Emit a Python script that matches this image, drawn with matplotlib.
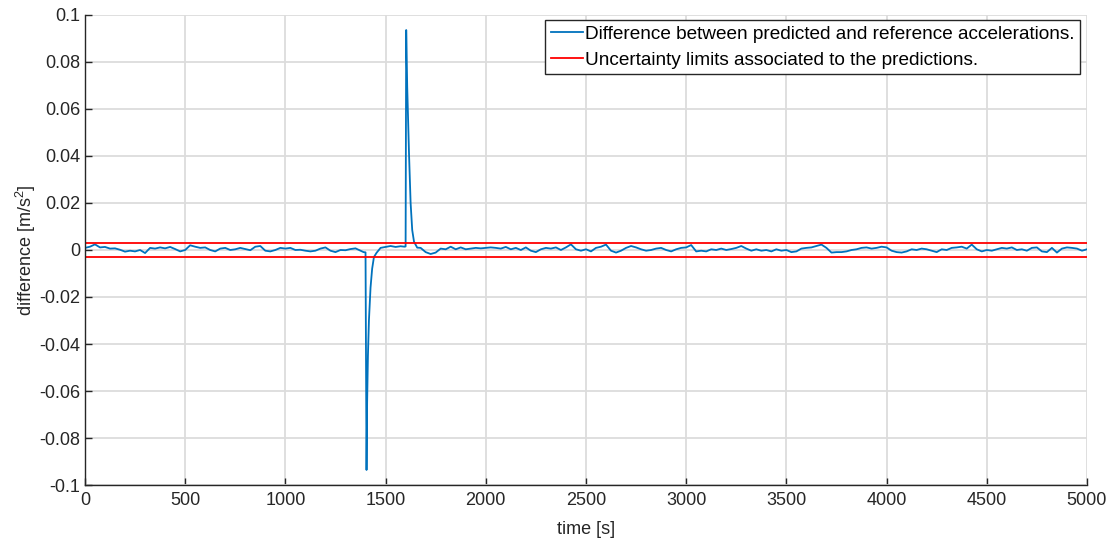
import numpy as np
import matplotlib
matplotlib.use("Agg")
import matplotlib.pyplot as plt
from matplotlib.ticker import FuncFormatter

plt.rcParams['font.family'] = ['Liberation Sans', 'DejaVu Sans']
plt.rcParams['axes.unicode_minus'] = False
plt.rcParams['mathtext.fontset'] = 'custom'
plt.rcParams['mathtext.rm'] = 'Liberation Sans'
plt.rcParams['mathtext.default'] = 'regular'

# time samples [s] and difference [m/s^2]
time = [
    0, 25, 50, 75, 100, 125, 150, 175, 200, 225, 250, 275, 300, 325, 350, 375,
    400, 425, 450, 475, 500, 525, 550, 575, 600, 625, 650, 675, 700, 725, 750,
    775, 800, 825, 850, 875, 900, 925, 950, 975, 1000, 1025, 1050, 1075, 1100,
    1125, 1150, 1175, 1200, 1225, 1250, 1275, 1300, 1325, 1350, 1375, 1390,
    1400, 1405, 1408, 1412, 1417, 1425, 1433, 1442, 1455,
    1475, 1500, 1525, 1550, 1575, 1595,
    1600, 1603, 1608, 1617, 1625, 1633, 1642, 1658,
    1675, 1700, 1725, 1750, 1775, 1800, 1825, 1850, 1875, 1900, 1925, 1950,
    1975, 2000, 2025, 2050, 2075, 2100, 2125, 2150, 2175, 2200, 2225, 2250,
    2275, 2300, 2325, 2350, 2375, 2400, 2425, 2450, 2475, 2500,
    2525, 2550, 2575, 2600, 2625, 2650, 2675, 2700, 2725, 2750, 2775, 2800,
    2825, 2850, 2875, 2900, 2925, 2950, 2975, 3000, 3025, 3050, 3075, 3100,
    3125, 3150, 3175, 3200, 3225, 3250, 3275, 3300, 3325, 3350, 3375, 3400,
    3425, 3450, 3475, 3500, 3525, 3550, 3575, 3600, 3625, 3650, 3675, 3700,
    3725, 3750, 3775, 3800, 3825, 3850, 3875, 3900, 3925, 3950, 3975, 4000,
    4025, 4050, 4075, 4100, 4125, 4150, 4175, 4200, 4225, 4250, 4275, 4300,
    4325, 4350, 4375, 4400, 4425, 4450, 4475, 4500, 4525, 4550, 4575, 4600,
    4625, 4650, 4675, 4700, 4725, 4750, 4775, 4800, 4825, 4850, 4875, 4900,
    4925, 4950, 4975, 5000,
]
diff = [
    0.0009, 0.0014, 0.0024, 0.0011, 0.0013, 0.0006, 0.0007, 0.0001, -0.0007,
    -0.0003, -0.0006, 0.0, -0.0013, 0.0009, 0.0006, 0.0011, 0.0007, 0.0013,
    0.0004, -0.0006, 0.0, 0.0020, 0.0014, 0.0009, 0.0011, 0.0, -0.0006, 0.0006,
    0.0009, 0.0, 0.0003, 0.0009, 0.0004, -0.0001, 0.0014, 0.0017, -0.0003,
    -0.0006, 0.0, 0.0009, 0.0006, 0.0009, 0.0, 0.0001, -0.0003, -0.0006,
    -0.0003, 0.0006, 0.0011, -0.0003, -0.0009, 0.0, -0.0001, 0.0004, 0.0007,
    -0.0003, -0.0009,
    -0.0010, -0.0936, -0.065, -0.045, -0.030, -0.016, -0.008, -0.003, -0.0012,
    0.0009, 0.0013, 0.0017, 0.0013, 0.0016, 0.0014,
    0.0015, 0.0936, 0.0695, 0.041, 0.020, 0.0085, 0.0035, 0.0010,
    0.0009, -0.0009, -0.0017, -0.0011, 0.0006, 0.0003, 0.0014, 0.0003, 0.0011,
    0.0003, 0.0006, 0.0009, 0.0007, 0.0009, 0.0011, 0.0009, 0.0006, 0.0013,
    0.0003, 0.0009, 0.0, 0.0011, -0.0003, -0.0009, 0.0003, 0.0009, 0.0006,
    0.0011, 0.0, 0.0011, 0.0024, 0.0003, -0.0003, 0.0003,
    -0.0006, 0.0009, 0.0014, 0.0023, -0.0003, -0.0011, -0.0003, 0.0009, 0.0017,
    0.0011, 0.0003, -0.0003, 0.0, 0.0006, 0.0009, 0.0, -0.0006, 0.0003, 0.0009,
    0.0011, 0.0021, -0.0006, -0.0003, -0.0006, 0.0003, 0.0, 0.0006, 0.0, 0.0004,
    0.0009, 0.0017, 0.0006, -0.0003, 0.0003, -0.0003, 0.0, -0.0006, 0.0003,
    -0.0003, 0.0, -0.0009, -0.0006, 0.0006, 0.0009, 0.0011, 0.0017, 0.0023,
    0.0009, -0.0011, -0.0009,
    -0.0009, -0.0006, 0.0, 0.0003, 0.0009, 0.0011, 0.0006, 0.0009, 0.0014,
    0.0011, -0.0003, -0.0009, -0.0011, -0.0006, 0.0003, 0.0, 0.0006, 0.0003,
    -0.0003, -0.0009, 0.0003, 0.0, 0.0009, 0.0011, 0.0014, 0.0006, 0.0023,
    0.0003, -0.0006, 0.0, -0.0003, 0.0003, 0.0009, 0.0006, 0.0011, 0.0,
    0.0003, -0.0003, 0.0009, 0.0011, -0.0006, -0.0009, 0.0009, -0.0011, 0.0006,
    0.0011, 0.0009, 0.0006, -0.0003, 0.0003,
]
limit = 0.003
t_span = [0, 5000]

fig = plt.figure(figsize=(11.12, 5.41), dpi=100)
ax = fig.add_axes([0.0764, 0.1035, 0.9011, 0.8688])

ax.plot(time, diff, color='#0072BD', lw=1.3,
        label='Difference between predicted and reference accelerations.')
ax.plot(t_span, [limit, limit], color='#FF0000', lw=1.3,
        label='Uncertainty limits associated to the predictions.')
ax.plot(t_span, [-limit, -limit], color='#FF0000', lw=1.3)

ax.set_xlim(0, 5000)
ax.set_ylim(-0.1, 0.1)
ax.set_xticks(np.arange(0, 5001, 500))
ax.set_yticks(np.arange(-0.1, 0.1001, 0.02))
ax.yaxis.set_major_formatter(FuncFormatter(lambda v, p: '%g' % round(v, 4)))

ax.grid(True, color='#dcdcdc', lw=1.3)
ax.set_axisbelow(True)
for s in ['top', 'right']:
    ax.spines[s].set_visible(False)
for s in ['left', 'bottom']:
    ax.spines[s].set_color('#262626')
    ax.spines[s].set_linewidth(1.0)
ax.tick_params(direction='in', length=5, width=1.0, colors='#262626',
               labelsize=13, labelcolor='#262626')
ax.tick_params(axis='x', pad=5)

ax.set_xlabel('time [s]', fontsize=13, color='#262626', labelpad=9)
ax.set_ylabel('difference [m/s$^2$]', fontsize=13, color='#262626',
              labelpad=1)

leg = ax.legend(loc='upper right', bbox_to_anchor=(0.9935, 0.99),
                fontsize=13.7, frameon=True, fancybox=False,
                edgecolor='#262626', framealpha=1, borderpad=0.3,
                handlelength=1.7, handletextpad=0.1, labelspacing=0.45,
                borderaxespad=0)
leg.get_frame().set_linewidth(1.0)

fig.savefig('out.png', dpi=100)
